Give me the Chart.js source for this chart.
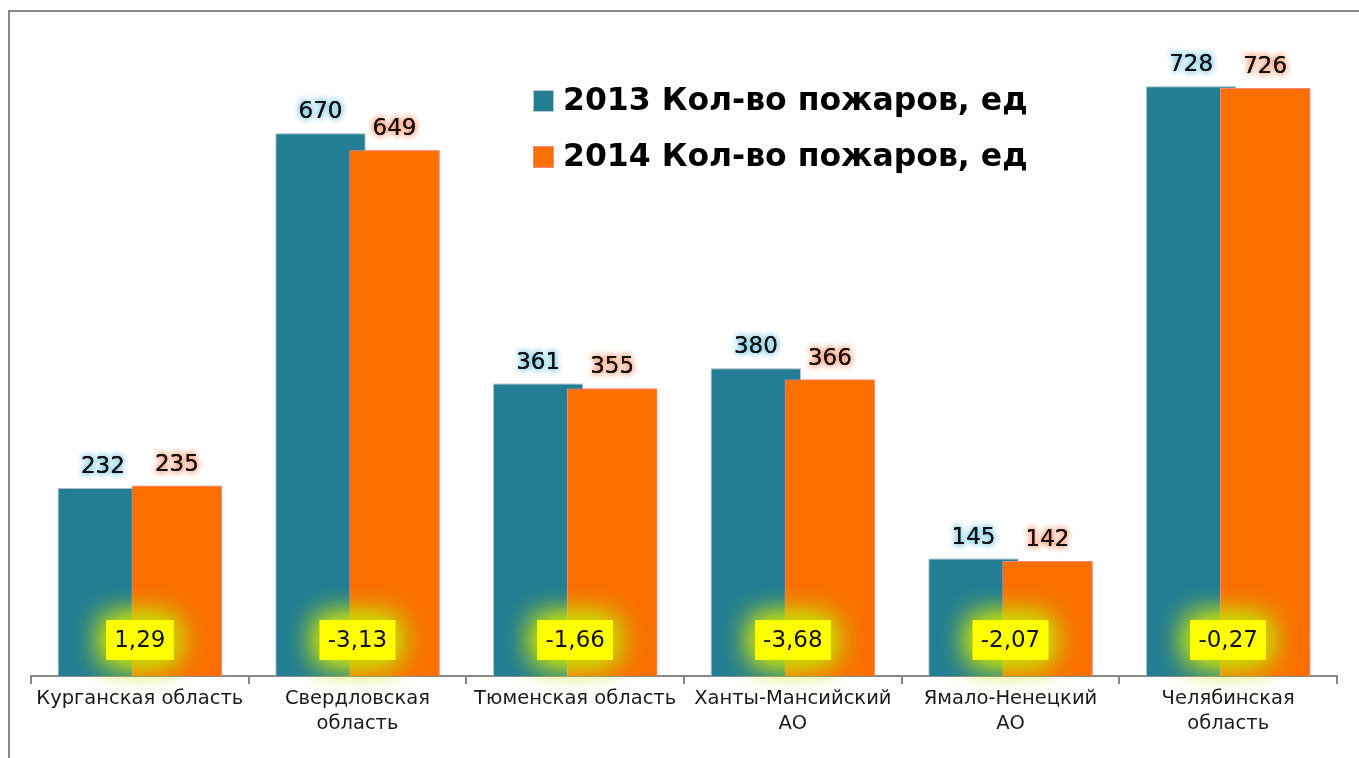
<!DOCTYPE html>
<html>
<head>
<meta charset="utf-8">
<script src="https://cdn.jsdelivr.net/npm/chart.js@4"></script>
<style>
  html, body { margin: 0; padding: 0; background: #fff; }
  #wrap { position: relative; width: 1359px; height: 758px; overflow: hidden; }
  #frame { position: absolute; left: 8px; top: 10px; width: 1400px; height: 800px;
           border-left: 2px solid #888; border-top: 2px solid #888; }
  canvas { position: absolute; left: 0; top: 0; }
</style>
</head>
<body>
<div id="wrap">
  <div id="frame"></div>
  <canvas id="chart" width="1359" height="758"></canvas>
</div>
<script>
const regions = [
  "Курганская область",
  ["Свердловская", "область"],
  "Тюменская область",
  ["Ханты-Мансийский", "АО"],
  ["Ямало-Ненецкий", "АО"],
  ["Челябинская", "область"]
];
const fires2013 = [232, 670, 361, 380, 145, 728];
const fires2014 = [235, 649, 355, 366, 142, 726];
const changePct = ["1,29", "-3,13", "-1,66", "-3,68", "-2,07", "-0,27"];
const seriesNames = ["2013 Кол-во пожаров, ед", "2014 Кол-во пожаров, ед"];

const fontFamily = "'DejaVu Sans', sans-serif";
const glowColors = ["rgba(120,200,225,0.9)", "rgba(255,150,110,0.9)"];
const barShadows = ["rgba(150,175,185,0.8)", "rgba(255,120,120,0.7)"];

//Glöd runt staplarna. 2014 ritas om ovanpå 2013 så att de överlappar som i originalet
const barGlow = {
  id: "barGlow",
  beforeDatasetDraw(chart, args) {
    const ctx = chart.ctx;
    ctx.save();
    ctx.shadowColor = barShadows[args.index];
    ctx.shadowBlur = 10;
  },
  afterDatasetDraw(chart, args) {
    const ctx = chart.ctx;
    ctx.restore();
    if (args.index === 0) {
      ctx.save();
      ctx.shadowColor = barShadows[1];
      ctx.shadowBlur = 10;
      chart.getDatasetMeta(1).data.forEach((bar) => bar.draw(ctx));
      ctx.restore();
    }
  }
};

//Värdena ovanför staplarna, gula rutor med förändring och legenden
const overlay = {
  id: "overlay",
  afterDatasetsDraw(chart) {
    const ctx = chart.ctx;
    const area = chart.chartArea;
    ctx.save();
    ctx.font = "23px " + fontFamily;
    ctx.textAlign = "center";
    ctx.textBaseline = "alphabetic";
    chart.data.datasets.forEach((ds, i) => {
      const meta = chart.getDatasetMeta(i);
      meta.data.forEach((bar, j) => {
        ctx.shadowColor = glowColors[i];
        ctx.shadowBlur = 6;
        ctx.fillStyle = "#111";
        for (let k = 0; k < 3; k++) {
          ctx.fillText(ds.data[j], bar.x, bar.y - 15);
        }
      });
    });

    //Gula rutor
    const xScale = chart.scales.x;
    ctx.font = "23px " + fontFamily;
    ctx.textBaseline = "middle";
    changePct.forEach((txt, j) => {
      const cx = xScale.getPixelForValue(j);
      const cy = area.bottom - 36;
      const w = ctx.measureText(txt).width + 16;
      const h = 40;
      ctx.shadowColor = "rgba(200,225,10,0.95)";
      ctx.shadowBlur = 30;
      ctx.fillStyle = "#ffff00";
      for (let k = 0; k < 3; k++) {
        ctx.fillRect(cx - w / 2, cy - h / 2, w, h);
      }
      ctx.shadowBlur = 0;
      ctx.fillStyle = "#111";
      ctx.fillText(txt, cx, cy + 1);
    });

    //Legend
    ctx.font = "bold 31.5px " + fontFamily;
    ctx.textAlign = "left";
    ctx.textBaseline = "middle";
    const lx = 533;
    chart.data.datasets.forEach((ds, i) => {
      const ly = 101 + i * 56;
      ctx.shadowBlur = 0;
      ctx.fillStyle = ds.borderColor;
      ctx.fillRect(lx, ly - 11, 21, 22);
      ctx.fillStyle = ds.backgroundColor;
      ctx.fillRect(lx + 1, ly - 10, 19, 20);
      ctx.fillStyle = "#000";
      ctx.fillText(seriesNames[i], lx + 30, ly + 1);
    });
    ctx.restore();
  }
};

new Chart(document.getElementById("chart"), {
  type: "bar",
  data: {
    labels: regions,
    datasets: [
      {
        label: seriesNames[0],
        data: fires2013,
        backgroundColor: "#237e94",
        borderColor: "#b9c7cc",
        borderWidth: 1,
        categoryPercentage: 0.68,
        barPercentage: 1.22
      },
      {
        label: seriesNames[1],
        data: fires2014,
        backgroundColor: "#fa7000",
        borderColor: "#ff8a80",
        borderWidth: 1,
        categoryPercentage: 0.68,
        barPercentage: 1.22
      }
    ]
  },
  options: {
    responsive: false,
    animation: false,
    layout: { padding: { left: 31, right: 22, top: 28, bottom: 0 } },
    plugins: {
      legend: { display: false },
      tooltip: { enabled: false }
    },
    scales: {
      y: { display: false, min: 0, max: 800 },
      x: {
        afterFit: (scale) => { scale.height = 82; },
        border: { color: "#888", width: 2 },
        grid: { drawOnChartArea: false, color: "#888", tickLength: 8, lineWidth: 2 },
        ticks: {
          color: "#1a1a1a",
          font: { family: fontFamily, size: 19.5, lineHeight: 1.3 },
          maxRotation: 0,
          autoSkip: false,
          padding: 2
        }
      }
    }
  },
  plugins: [barGlow, overlay]
});
</script>
</body>
</html>
